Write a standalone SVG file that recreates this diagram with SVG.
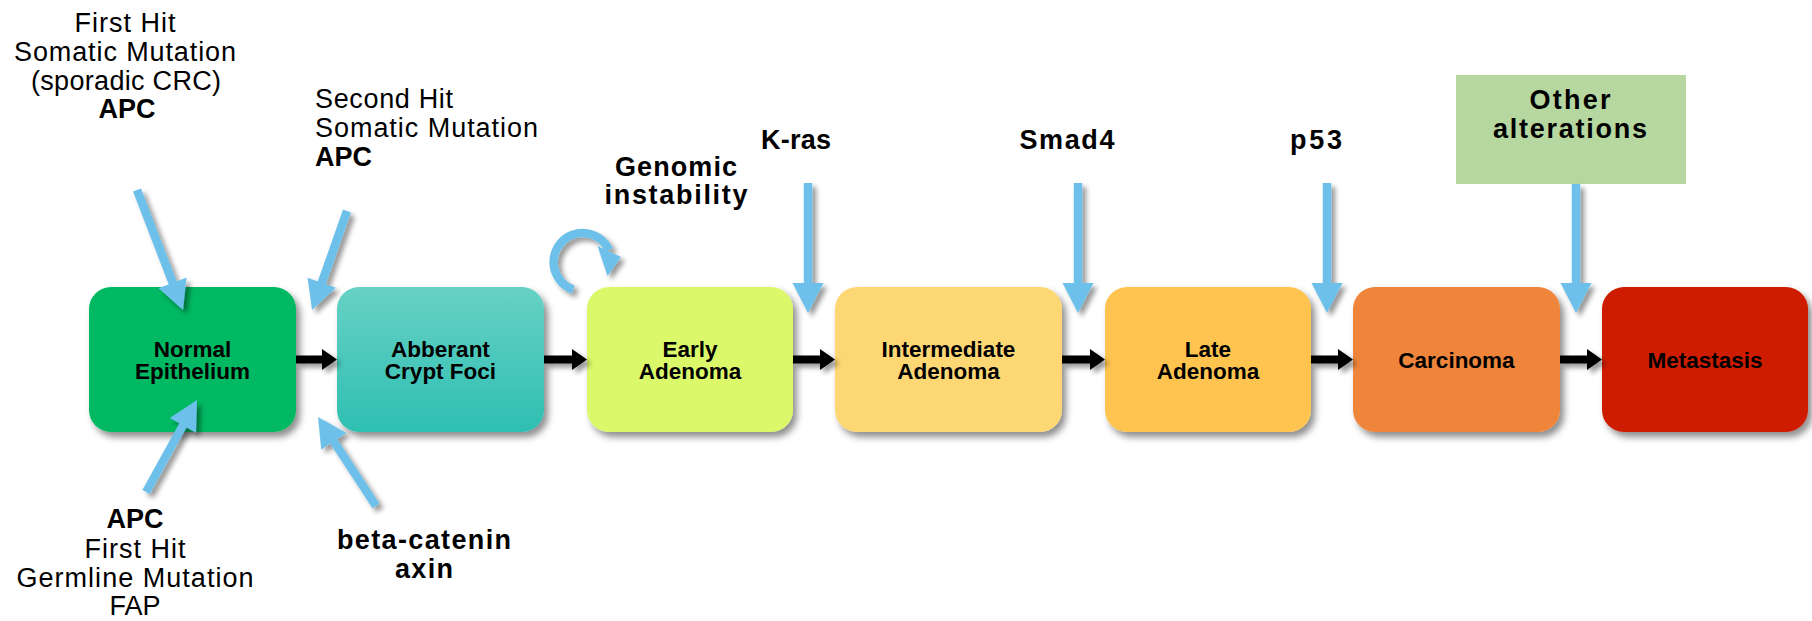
<svg xmlns="http://www.w3.org/2000/svg" width="1812" height="621" viewBox="0 0 1812 621">
  <style>
    .stage { stroke: none; }
    .stage-label { font-family: "Liberation Sans", Arial, sans-serif; font-weight: bold; font-size: 22.5px; fill: #000; text-anchor: middle; }
    .note { font-family: "Liberation Sans", Arial, sans-serif; font-size: 27px; fill: #000; }
    .note-b { font-family: "Liberation Sans", Arial, sans-serif; font-weight: bold; font-size: 27px; fill: #000; }
    .mid { text-anchor: middle; }
    .hit-shaft { stroke: #6DC0EA; stroke-width: 8.5; fill: none; stroke-linecap: butt; }
    .hit-head { fill: #6DC0EA; stroke: none; }
    .step { fill: #000; stroke: none; }
  </style>
  <defs>
    <filter id="shadow" x="-20%" y="-20%" width="150%" height="150%">
      <feDropShadow dx="4" dy="5" stdDeviation="3.5" flood-color="#000" flood-opacity="0.45"/>
    </filter>
    <filter id="shadow-sm" x="-30%" y="-30%" width="180%" height="180%">
      <feDropShadow dx="4" dy="4" stdDeviation="2.5" flood-color="#000" flood-opacity="0.4"/>
    </filter>
    <linearGradient id="acf-fill" x1="0" y1="0" x2="0" y2="1">
      <stop offset="0" stop-color="#68D1C5"/>
      <stop offset="1" stop-color="#2DBFB1"/>
    </linearGradient>
  </defs>

  <rect width="1812" height="621" fill="#fff"/>

  <!-- Progression stages -->
  <g id="normal-epithelium">
    <rect class="stage" x="89" y="287" width="207" height="145" rx="22" fill="#00B962" filter="url(#shadow)"/>
    <text class="stage-label" x="192.5" y="357">Normal</text>
    <text class="stage-label" x="192.5" y="379">Epithelium</text>
  </g>
  <g id="aberrant-crypt-foci">
    <rect class="stage" x="337" y="287" width="207" height="145" rx="22" fill="url(#acf-fill)" filter="url(#shadow)"/>
    <text class="stage-label" x="440.5" y="357">Abberant</text>
    <text class="stage-label" x="440.5" y="379">Crypt Foci</text>
  </g>
  <g id="early-adenoma">
    <rect class="stage" x="587" y="287" width="206" height="145" rx="22" fill="#DAF86B" filter="url(#shadow)"/>
    <text class="stage-label" x="690" y="357">Early</text>
    <text class="stage-label" x="690" y="379">Adenoma</text>
  </g>
  <g id="intermediate-adenoma">
    <rect class="stage" x="835" y="287" width="227" height="145" rx="22" fill="#FED775" filter="url(#shadow)"/>
    <text class="stage-label" x="948.5" y="357">Intermediate</text>
    <text class="stage-label" x="948.5" y="379">Adenoma</text>
  </g>
  <g id="late-adenoma">
    <rect class="stage" x="1105" y="287" width="206" height="145" rx="22" fill="#FEC450" filter="url(#shadow)"/>
    <text class="stage-label" x="1208" y="357">Late</text>
    <text class="stage-label" x="1208" y="379">Adenoma</text>
  </g>
  <g id="carcinoma">
    <rect class="stage" x="1353" y="287" width="207" height="145" rx="22" fill="#EE853A" filter="url(#shadow)"/>
    <text class="stage-label" x="1456.5" y="368">Carcinoma</text>
  </g>
  <g id="metastasis">
    <rect class="stage" x="1602" y="287" width="206" height="145" rx="22" fill="#CD1F00" filter="url(#shadow)"/>
    <text class="stage-label" x="1705" y="368">Metastasis</text>
  </g>

  <!-- Other alterations box -->
  <g id="other-alterations">
    <rect x="1456" y="75" width="230" height="109" fill="#B6D7A0"/>
    <text class="note-b mid" x="1570" y="109" textLength="81">Other</text>
    <text class="note-b mid" x="1570" y="138" textLength="154">alterations</text>
  </g>

  <!-- Gene / event labels -->
  <g id="label-first-hit-somatic">
    <text class="note mid" x="125" y="32" textLength="101">First Hit</text>
    <text class="note mid" x="125" y="61" textLength="222">Somatic Mutation</text>
    <text class="note mid" x="126" y="90" textLength="190">(sporadic CRC)</text>
    <text class="note-b mid" x="127" y="118">APC</text>
  </g>
  <g id="label-second-hit">
    <text class="note" x="315" y="108" textLength="138">Second Hit</text>
    <text class="note" x="315" y="137" textLength="223">Somatic Mutation</text>
    <text class="note-b" x="315" y="166">APC</text>
  </g>
  <g id="label-first-hit-germline">
    <text class="note-b mid" x="135" y="528">APC</text>
    <text class="note mid" x="135" y="558" textLength="101">First Hit</text>
    <text class="note mid" x="135" y="587" textLength="237">Germline Mutation</text>
    <text class="note mid" x="135" y="615">FAP</text>
  </g>
  <g id="label-beta-catenin">
    <text class="note-b mid" x="424" y="549" textLength="174">beta-catenin</text>
    <text class="note-b mid" x="424" y="578" textLength="58">axin</text>
  </g>
  <g id="label-genomic-instability">
    <text class="note-b mid" x="676" y="176" textLength="122">Genomic</text>
    <text class="note-b mid" x="676" y="204" textLength="143">instability</text>
  </g>
  <g id="label-kras">
    <text class="note-b mid" x="796" y="149" textLength="70">K-ras</text>
  </g>
  <g id="label-smad4">
    <text class="note-b mid" x="1067" y="149" textLength="95">Smad4</text>
  </g>
  <g id="label-p53">
    <text class="note-b mid" x="1316" y="149" textLength="52">p53</text>
  </g>

  <!-- Connectors -->
  <g id="connectors">
    <!-- stage-to-stage steps -->
    <g filter="url(#shadow-sm)">
      <path class="step" d="M296,355.5 H322 V349 L337,359.5 L322,370 V363.5 H296 Z"/>
      <path class="step" d="M544,355.5 H572 V349 L587,359.5 L572,370 V363.5 H544 Z"/>
      <path class="step" d="M793,355.5 H820 V349 L835,359.5 L820,370 V363.5 H793 Z"/>
      <path class="step" d="M1062,355.5 H1090 V349 L1105,359.5 L1090,370 V363.5 H1062 Z"/>
      <path class="step" d="M1311,355.5 H1338 V349 L1353,359.5 L1338,370 V363.5 H1311 Z"/>
      <path class="step" d="M1560,355.5 H1587 V349 L1602,359.5 L1587,370 V363.5 H1560 Z"/>
    </g>

    <!-- hits arriving on the stages -->
    <g filter="url(#shadow-sm)">
      <line class="hit-shaft" x1="137" y1="190" x2="173.5" y2="285"/>
      <polygon class="hit-head" points="186.6,277.5 158.6,288.3 183,310"/>

      <line class="hit-shaft" x1="347" y1="211" x2="321" y2="285"/>
      <polygon class="hit-head" points="335.8,287.7 307.6,277.7 312,310"/>

      <line class="hit-shaft" x1="146" y1="492" x2="184" y2="423.5"/>
      <polygon class="hit-head" points="196,432.7 169.8,418.1 197,400"/>

      <line class="hit-shaft" x1="376" y1="506" x2="332.5" y2="439.5"/>
      <polygon class="hit-head" points="346.4,433.1 321.2,449.5 318,417"/>

      <line class="hit-shaft" x1="808" y1="183" x2="808" y2="285"/>
      <polygon class="hit-head" points="792.5,283 823.5,283 808,313"/>

      <line class="hit-shaft" x1="1078" y1="183" x2="1078" y2="285"/>
      <polygon class="hit-head" points="1062.5,283 1093.5,283 1078,313"/>

      <line class="hit-shaft" x1="1327" y1="183" x2="1327" y2="285"/>
      <polygon class="hit-head" points="1311.5,283 1342.5,283 1327,313"/>

      <line class="hit-shaft" x1="1576" y1="184" x2="1576" y2="285"/>
      <polygon class="hit-head" points="1560.5,283 1591.5,283 1576,313"/>

      <!-- genomic instability loop -->
      <path class="hit-shaft" d="M573.2,289.5 A29,29 0 1 1 609,250"/>
      <polygon class="hit-head" points="597.5,246 621,257 607.5,276"/>
    </g>
  </g>
</svg>
